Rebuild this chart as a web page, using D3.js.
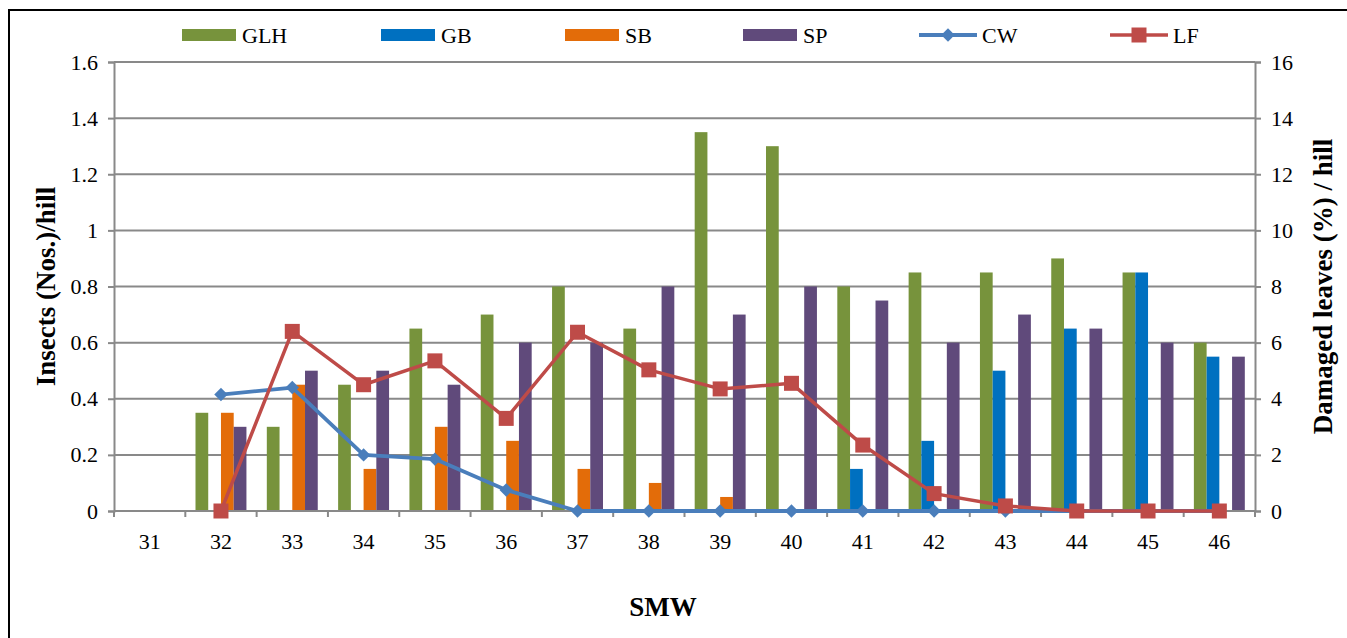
<!DOCTYPE html>
<html>
<head>
<meta charset="utf-8">
<script src="https://cdn.jsdelivr.net/npm/d3@7"></script>
<style>
  body { margin: 0; background: #fff; }
  text { font-family: "Liberation Serif", "Times New Roman", serif; fill: #000; }
</style>
</head>
<body>
<div id="plot"></div>
<script>
var weeks = ["31","32","33","34","35","36","37","38","39","40","41","42","43","44","45","46"]

// insects per hill (left axis)
var glh = [0, 0.35, 0.3, 0.45, 0.65, 0.7, 0.8, 0.65, 1.35, 1.3, 0.8, 0.85, 0.85, 0.9, 0.85, 0.6]
var gb  = [0, 0, 0, 0, 0, 0, 0, 0, 0, 0, 0.15, 0.25, 0.5, 0.65, 0.85, 0.55]
var sb  = [0, 0.35, 0.45, 0.15, 0.3, 0.25, 0.15, 0.1, 0.05, 0, 0, 0, 0, 0, 0, 0]
var sp  = [0, 0.3, 0.5, 0.5, 0.45, 0.6, 0.6, 0.8, 0.7, 0.8, 0.75, 0.6, 0.7, 0.65, 0.6, 0.55]

// damaged leaves (%) per hill (right axis), week 31 has no point
var cw = [null, 4.15, 4.4, 2.0, 1.85, 0.75, 0, 0, 0, 0, 0, 0, 0, 0, 0, 0]
var lf = [null, 0, 6.4, 4.5, 5.35, 3.3, 6.37, 5.03, 4.35, 4.55, 2.35, 0.62, 0.18, 0, 0, 0]

var leftTicks = [0, 0.2, 0.4, 0.6, 0.8, 1, 1.2, 1.4, 1.6]
var rightTicks = [0, 2, 4, 6, 8, 10, 12, 14, 16]

var barSeries = [
  {name: "GLH", values: glh, color: "#77933C"},
  {name: "GB",  values: gb,  color: "#0070C0"},
  {name: "SB",  values: sb,  color: "#E36C09"},
  {name: "SP",  values: sp,  color: "#604A7B"}
]
var lineSeries = [
  {name: "CW", values: cw, color: "#4A7EBB", marker: "diamond", lw: 3.8},
  {name: "LF", values: lf, color: "#BE4B48", marker: "square", lw: 3.5}
]

var W = 1347, H = 638
var margin = {top: 62, right: 92, bottom: 127, left: 114}
  , width = W - margin.left - margin.right
  , height = H - margin.top - margin.bottom

var svg = d3.select("#plot")
  .append("svg")
    .attr("width", W)
    .attr("height", H)

// outer frame (right and bottom fall outside the picture)
svg.append("path")
  .attr("d", "M9," + H + "V10H" + W)
  .attr("fill", "none")
  .attr("stroke", "#000")
  .attr("stroke-width", 2)

var g = svg.append("g")
  .attr("transform", "translate(" + margin.left + "," + margin.top + ")")

var x0 = d3.scaleBand()
  .domain(weeks)
  .range([0, width])
  .padding(0)

var x1 = d3.scaleBand()
  .domain(barSeries.map(d => d.name))
  .range([0, x0.bandwidth()])
  .paddingInner(0)
  .paddingOuter(0.8)

var yL = d3.scaleLinear().domain([0, 1.6]).range([height, 0])
var yR = d3.scaleLinear().domain([0, 16]).range([height, 0])

var grey = "#898989"

// gridlines
g.append("g")
  .selectAll("line")
  .data(leftTicks)
  .enter()
  .append("line")
    .attr("x1", 0)
    .attr("x2", width)
    .attr("y1", d => yL(d))
    .attr("y2", d => yL(d))
    .attr("stroke", grey)
    .attr("stroke-width", 2)

// left axis
var axL = g.append("g")
  .call(d3.axisLeft(yL).tickValues(leftTicks).tickSize(6).tickPadding(10).tickFormat(d3.format("")))
axL.selectAll(".domain").attr("stroke", grey).attr("stroke-width", 2)
axL.selectAll(".tick line").attr("stroke", grey).attr("stroke-width", 2)
axL.selectAll("text").attr("font-size", 22).attr("font-family", "Liberation Serif")

// right axis
var axR = g.append("g")
  .attr("transform", "translate(" + width + ",0)")
  .call(d3.axisRight(yR).tickValues(rightTicks).tickSize(6).tickPadding(10))
axR.selectAll(".domain").attr("stroke", grey).attr("stroke-width", 2)
axR.selectAll(".tick line").attr("stroke", grey).attr("stroke-width", 2)
axR.selectAll("text").attr("font-size", 22).attr("font-family", "Liberation Serif")

// bars
barSeries.forEach(function(s) {
  g.append("g")
    .selectAll("rect")
    .data(s.values)
    .enter()
    .append("rect")
      .attr("x", (d, i) => x0(weeks[i]) + x1(s.name))
      .attr("y", d => yL(d))
      .attr("width", x1.bandwidth())
      .attr("height", d => yL(0) - yL(d))
      .attr("fill", s.color)
})

// bottom axis (ticks at category boundaries)
g.append("line")
  .attr("x1", 0).attr("x2", width)
  .attr("y1", height).attr("y2", height)
  .attr("stroke", grey).attr("stroke-width", 2)

g.append("g")
  .selectAll("line")
  .data(weeks.concat(["end"]))
  .enter()
  .append("line")
    .attr("x1", (d, i) => i * x0.step())
    .attr("x2", (d, i) => i * x0.step())
    .attr("y1", height)
    .attr("y2", height + 6)
    .attr("stroke", grey).attr("stroke-width", 2)

g.append("g")
  .selectAll("text")
  .data(weeks)
  .enter()
  .append("text")
    .attr("x", d => x0(d) + x0.bandwidth() / 2)
    .attr("y", height + 38)
    .attr("text-anchor", "middle")
    .attr("font-size", 22)
    .text(d => d)

// lines with markers
var marker = function(type) {
  return type == "square"
    ? d3.symbol().type(d3.symbolSquare).size(225)()
    : d3.symbol().type(d3.symbolSquare).size(90)()
}

lineSeries.forEach(function(s) {
  var pts = s.values.map((v, i) => ({w: weeks[i], v: v})).filter(d => d.v !== null)
  var line = d3.line()
    .x(d => x0(d.w) + x0.bandwidth() / 2)
    .y(d => yR(d.v))

  g.append("path")
    .datum(pts)
    .attr("d", line)
    .attr("fill", "none")
    .attr("stroke", s.color)
    .attr("stroke-width", s.lw)
    .attr("stroke-linejoin", "round")

  g.append("g")
    .selectAll("path")
    .data(pts)
    .enter()
    .append("path")
      .attr("d", marker(s.marker))
      .attr("transform", d => "translate(" + (x0(d.w) + x0.bandwidth() / 2) + "," + yR(d.v) + ")" + (s.marker == "diamond" ? " rotate(45)" : ""))
      .attr("fill", s.color)
})

// axis titles
svg.append("text")
  .attr("transform", "translate(55," + (margin.top + height / 2) + ") rotate(-90)")
  .attr("text-anchor", "middle")
  .attr("font-size", 27)
  .attr("font-weight", "bold")
  .text("Insects (Nos.)/hill")

svg.append("text")
  .attr("transform", "translate(1332," + (margin.top + height / 2) + ") rotate(-90)")
  .attr("text-anchor", "middle")
  .attr("font-size", 27)
  .attr("font-weight", "bold")
  .text("Damaged leaves (%) / hill")

svg.append("text")
  .attr("x", 663)
  .attr("y", 616)
  .attr("text-anchor", "middle")
  .attr("font-size", 27)
  .attr("font-weight", "bold")
  .text("SMW")

// legend
var legendX = [182, 381, 565, 743, 919, 1110]
var legend = svg.append("g")

barSeries.forEach(function(s, i) {
  legend.append("rect")
    .attr("x", legendX[i]).attr("y", 29)
    .attr("width", 54).attr("height", 12)
    .attr("fill", s.color)
  legend.append("text")
    .attr("x", legendX[i] + 60).attr("y", 43)
    .attr("font-size", 22)
    .text(s.name)
})

lineSeries.forEach(function(s, j) {
  var lx = legendX[4 + j]
  legend.append("line")
    .attr("x1", lx).attr("x2", lx + 58)
    .attr("y1", 35).attr("y2", 35)
    .attr("stroke", s.color).attr("stroke-width", s.lw)
  legend.append("path")
    .attr("d", marker(s.marker))
    .attr("transform", "translate(" + (lx + 29) + ",35)" + (s.marker == "diamond" ? " rotate(45)" : ""))
    .attr("fill", s.color)
  legend.append("text")
    .attr("x", lx + 63).attr("y", 43)
    .attr("font-size", 22)
    .text(s.name)
})
</script>
</body>
</html>
